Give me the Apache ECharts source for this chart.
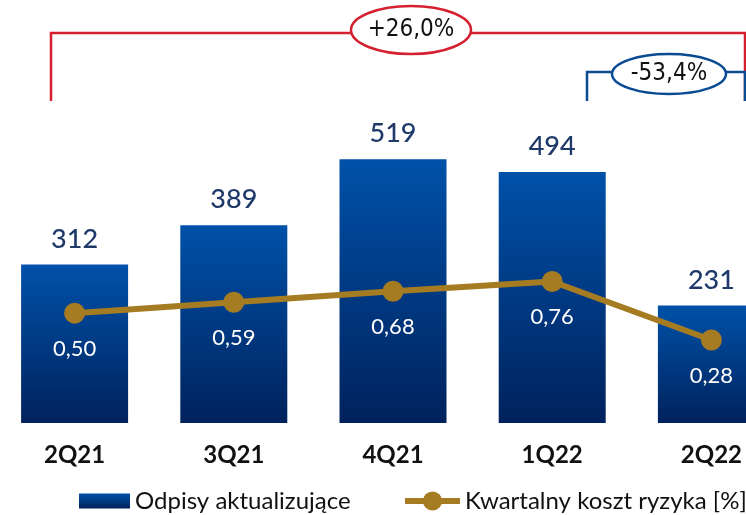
<!DOCTYPE html>
<html>
<head>
<meta charset="utf-8">
<script src="https://cdn.jsdelivr.net/npm/echarts@6/dist/echarts.min.js"></script>
<style>
  html, body { margin: 0; padding: 0; background: #fff; }
  #chart { width: 746px; height: 515px; }
</style>
</head>
<body>
<div id="chart"></div>
<script>
var categories = ['2Q21', '3Q21', '4Q21', '1Q22', '2Q22'];
var odpisy = [312, 389, 519, 494, 231];
var kosztRyzyka = [0.50, 0.59, 0.68, 0.76, 0.28];

var mainFont = "Lato, 'Open Sans', sans-serif";
var narrowFont = "'Liberation Sans Narrow', 'DejaVu Sans Condensed', sans-serif";

var myChart = echarts.init(document.getElementById('chart'));

function plFormat(v) {
    return v.toFixed(2).replace('.', ',');
}

var option = {
    animation: false,
    backgroundColor: '#ffffff',
    grid: { left: -5, right: -45, top: 118, bottom: 92, outerBoundsMode: 'none', containLabel: false },
    legend: [
        {
            data: ['Odpisy aktualizujące'],
            icon: 'rect',
            left: 74, top: 484,
            itemWidth: 51, itemHeight: 15,
            textStyle: { fontFamily: mainFont, fontSize: 24, color: '#111' }
        },
        {
            data: ['Kwartalny koszt ryzyka [%]'],
            left: 397, top: 484,
            itemWidth: 55, itemHeight: 24,
            lineStyle: { width: 6 },
            textStyle: { fontFamily: mainFont, fontSize: 24, color: '#111' }
        }
    ],
    xAxis: {
        type: 'category',
        data: categories,
        axisLine: { show: false },
        axisTick: { show: false },
        axisLabel: {
            margin: 20,
            fontFamily: mainFont,
            fontSize: 24,
            fontWeight: 'bold',
            color: '#111'
        }
    },
    yAxis: [
        { type: 'value', min: 0, max: 600, show: false },
        { type: 'value', min: -0.4, max: 2.1, show: false }
    ],
    series: [
        {
            name: 'Odpisy aktualizujące',
            type: 'bar',
            data: odpisy,
            barWidth: 107,
            itemStyle: {
                color: {
                    type: 'linear', x: 0, y: 0, x2: 0, y2: 1,
                    colorStops: [
                        { offset: 0, color: '#0051a9' },
                        { offset: 1, color: '#00225c' }
                    ]
                }
            },
            label: {
                show: true,
                position: 'top',
                distance: 12,
                fontFamily: mainFont,
                fontSize: 27,
                fontWeight: 500,
                color: '#1f3a6a'
            }
        },
        {
            name: 'Kwartalny koszt ryzyka [%]',
            type: 'line',
            yAxisIndex: 1,
            data: kosztRyzyka,
            symbol: 'circle',
            symbolSize: 21,
            z: 5,
            lineStyle: { color: '#a67c22', width: 6 },
            itemStyle: { color: '#a67c22' },
            label: {
                show: true,
                position: 'bottom',
                distance: 14,
                fontFamily: mainFont,
                fontSize: 22,
                color: '#ffffff',
                formatter: function (p) { return plFormat(p.value); }
            }
        }
    ],
    graphic: [
        {
            type: 'polyline',
            shape: { points: [[51, 101], [51, 33], [745, 33], [745, 101]] },
            style: { stroke: '#d5202f', lineWidth: 2.5, fill: null }
        },
        {
            type: 'polyline',
            shape: { points: [[587, 101], [587, 72], [745, 72], [745, 101]] },
            style: { stroke: '#0b4b94', lineWidth: 2.5, fill: null }
        },
        {
            type: 'ellipse',
            shape: { cx: 411, cy: 30, rx: 60, ry: 24 },
            style: { stroke: '#d5202f', lineWidth: 2.5, fill: '#ffffff' }
        },
        {
            type: 'text',
            x: 411, y: 30,
            style: {
                text: '+26,0%', fontFamily: narrowFont, fontSize: 24,
                fill: '#111', align: 'center', verticalAlign: 'middle'
            }
        },
        {
            type: 'ellipse',
            shape: { cx: 669, cy: 74, rx: 57, ry: 20 },
            style: { stroke: '#0b4b94', lineWidth: 2.5, fill: '#ffffff' }
        },
        {
            type: 'text',
            x: 669, y: 74,
            style: {
                text: '-53,4%', fontFamily: narrowFont, fontSize: 24,
                fill: '#111', align: 'center', verticalAlign: 'middle'
            }
        }
    ]
};

myChart.setOption(option);
</script>
</body>
</html>
